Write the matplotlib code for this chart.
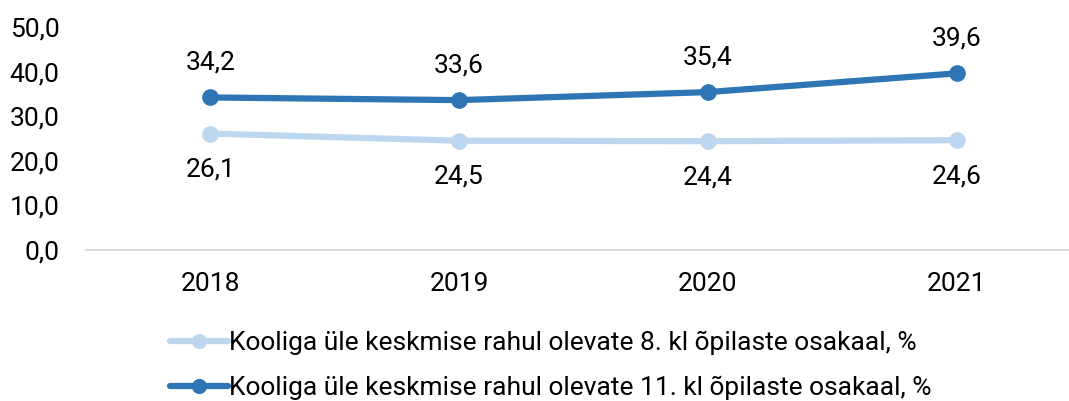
import matplotlib.pyplot as plt

years = ["2018", "2019", "2020", "2021"]
grade8 = [26.1, 24.5, 24.4, 24.6]
grade11 = [34.2, 33.6, 35.4, 39.6]
label8 = "Kooliga üle keskmise rahul olevate 8. kl õpilaste osakaal, %"
label11 = "Kooliga üle keskmise rahul olevate 11. kl õpilaste osakaal, %"

light = "#BDD7EE"
dark = "#2E75B6"
fs = 19

plt.rcParams["font.family"] = ["Roboto", "DejaVu Sans"]

fig = plt.figure(figsize=(10.69, 4.01), dpi=100)
ax = fig.add_axes([0.0804, 0.3766, 0.9308, 0.5561])

x = range(len(years))
l8, = ax.plot(x, grade8, color=light, lw=4.5, marker="o", ms=11, label=label8,
              solid_capstyle="round")
l11, = ax.plot(x, grade11, color=dark, lw=4.5, marker="o", ms=11, label=label11,
               solid_capstyle="round")

def fmt(v):
    return f"{v:.1f}".replace(".", ",")

for i, v in enumerate(grade8):
    ax.annotate(fmt(v), (i, v), xytext=(0, -26), textcoords="offset points",
                ha="center", va="center", fontsize=fs)
for i, v in enumerate(grade11):
    ax.annotate(fmt(v), (i, v), xytext=(0, 25), textcoords="offset points",
                ha="center", va="center", fontsize=fs)

ax.set_xlim(-0.5, 3.5)
ax.set_ylim(0, 50)
ax.set_yticks([0, 10, 20, 30, 40, 50])
ax.set_yticklabels([fmt(t) for t in [0, 10, 20, 30, 40, 50]], fontsize=fs)
ax.set_xticks(list(x))
ax.set_xticklabels(years, fontsize=fs)
ax.tick_params(length=0)
ax.tick_params(axis="y", pad=19)
ax.tick_params(axis="x", pad=16)
for s in ["top", "right", "left"]:
    ax.spines[s].set_visible(False)
ax.spines["bottom"].set_color("#D9D9D9")
ax.spines["bottom"].set_linewidth(1.5)

fig.legend(handles=[l8, l11], loc="upper left", bbox_to_anchor=(0.159, 0.175),
           frameon=False, fontsize=fs, handlelength=2.2, handletextpad=0.05,
           labelspacing=0.8, borderaxespad=0, borderpad=0, markerscale=0.9)

fig.savefig("out.png", dpi=100)
